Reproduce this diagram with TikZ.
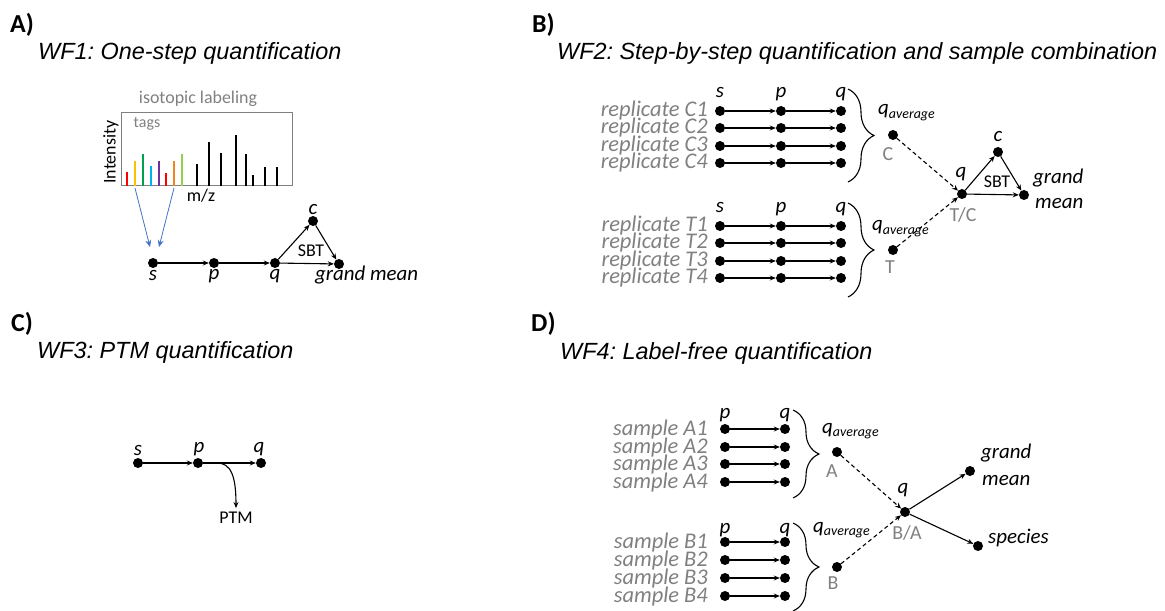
\documentclass[tikz,border=0pt]{standalone}
\usepackage{fontspec}
\setmainfont{Carlito}
\newfontfamily\arialfont{Liberation Sans}
\usetikzlibrary{arrows.meta,decorations.pathreplacing}
\definecolor{txtgray}{HTML}{808080}
\definecolor{tagred}{HTML}{FF0000}
\definecolor{taggold}{HTML}{FFC000}
\definecolor{taggreen}{HTML}{00A050}
\definecolor{tagblue}{HTML}{00B0F0}
\definecolor{tagpurple}{HTML}{7030A0}
\definecolor{tagorange}{HTML}{F58220}
\definecolor{taglime}{HTML}{92D050}
\definecolor{arrowblue}{HTML}{4472C4}
\newcommand{\qavg}{q\raisebox{-0.35ex}{\fontsize{14}{14}\selectfont average}}
\frenchspacing
\begin{document}
\begin{tikzpicture}[x=1bp,y=-1bp,
    dot/.style={circle,fill=black,inner sep=0pt,minimum size=10bp},
    lab/.style={font=\fontsize{21}{21}\selectfont\itshape,inner sep=0pt},
    greylab/.style={font=\fontsize{20}{20}\selectfont,text=txtgray,inner sep=0pt},
    rep/.style={font=\fontsize{22.5}{22.5}\selectfont\itshape,text=txtgray,inner sep=0pt,anchor=base east},
    small/.style={font=\fontsize{18}{18}\selectfont,inner sep=0pt},
    wftitle/.style={font=\arialfont\itshape\fontsize{23.5}{28}\selectfont\frenchspacing,anchor=base west,inner sep=0pt},
    panel/.style={font=\bfseries\fontsize{26}{26}\selectfont,anchor=base west,inner sep=0pt},
    bar/.style={line width=2.4bp},
    arr/.style={-{Stealth[length=6bp,width=5bp]},line width=1.1bp},
    dasharr/.style={arr,dash pattern=on 4bp off 3bp},
    curly/.style={decorate,decoration={brace,amplitude=26bp},line width=1.1bp}]
  \useasboundingbox (0,0) rectangle (1165,611);

  % A) one-step
  \node[panel] (pa) at (10,33) {A)};
  \node[wftitle] (wf1) at (38,60) {WF1: One-step quantification};
  \node[small,text=txtgray] (iso) at (198,99) {isotopic labeling};
  \draw[txtgray,line width=1bp] (121,113) rectangle (292,186);
  \node[small,text=txtgray,font=\fontsize{16}{16}\selectfont] (tags) at (147,124) {tags};
  \node[small,rotate=90] (int) at (111,152) {Intensity};
  \node[small] (mz) at (201,196) {m/z};
  \draw[bar,tagred] (127,186) -- (127,172);
  \draw[bar,taggold] (135,186) -- (135,161);
  \draw[bar,taggreen] (143,186) -- (143,154);
  \draw[bar,tagblue] (151,186) -- (151,166);
  \draw[bar,tagpurple] (159,186) -- (159,161);
  \draw[bar,tagred] (166,186) -- (166,173);
  \draw[bar,tagorange] (174,186) -- (174,161);
  \draw[bar,taglime] (182,186) -- (182,154);
  \draw[bar] (197,186) -- (197,164);
  \draw[bar] (209,186) -- (209,142);
  \draw[bar] (221,186) -- (221,153);
  \draw[bar] (236,186) -- (236,135);
  \draw[bar] (246,186) -- (246,154);
  \draw[bar] (253,186) -- (253,175);
  \draw[bar] (265,186) -- (265,167);
  \draw[bar] (277,186) -- (277,167);
  \coordinate (gold) at (135,188);
  \coordinate (orng) at (174,188);
  \coordinate (taga) at (150,247);
  \coordinate (tagb) at (159,247);
  \draw[-{Stealth[length=7bp,width=6bp]},arrowblue,line width=0.8bp] (gold) -- (taga);
  \draw[-{Stealth[length=7bp,width=6bp]},arrowblue,line width=0.8bp] (orng) -- (tagb);
  \draw
    (153,263) node[dot] (s1) {}
    (214,263) node[dot] (p1) {}
    (275,263) node[dot] (q1) {}
    (313,221) node[dot] (c1) {}
    (339,264) node[dot] (gm1) {};
  \node[lab,anchor=base] (s1l) at (153,281) {s};
  \node[lab,anchor=base] (p1l) at (214,280) {p};
  \node[lab,anchor=base] (q1l) at (275,280) {q};
  \node[lab,anchor=base] (c1l) at (313,215) {c};
  \node[lab,anchor=base west] (gm1l) at (315,281) {grand mean};
  \node[small] (sbt1) at (311,251) {SBT};
  \begin{scope}[arr]
    \draw (s1) to (p1);
    \draw (p1) to (q1);
    \draw (q1) to (c1);
    \draw (c1) to (gm1);
    \draw (q1) to (gm1);
  \end{scope}

  % B) step-by-step
  \node[panel] (pb) at (532,33) {B)};
  \node[wftitle] (wf2) at (557,60) {WF2: Step-by-step quantification and sample combination};
  \node[lab,anchor=base] (csl) at (720,98) {s};
  \node[lab,anchor=base] (cpl) at (781,98) {p};
  \node[lab,anchor=base] (cql) at (841,98) {q};
  \node[lab,anchor=base] (tsl) at (720,213) {s};
  \node[lab,anchor=base] (tpl) at (781,213) {p};
  \node[lab,anchor=base] (tql) at (841,213) {q};
  \node[rep] (rc1) at (708,117) {replicate C1};
  \node[rep] (rc2) at (708,134) {replicate C2};
  \node[rep] (rc3) at (708,152) {replicate C3};
  \node[rep] (rc4) at (708,169) {replicate C4};
  \node[rep] (rt1) at (708,232) {replicate T1};
  \node[rep] (rt2) at (708,249) {replicate T2};
  \node[rep] (rt3) at (708,267) {replicate T3};
  \node[rep] (rt4) at (708,284) {replicate T4};
  \draw
    (720,111) node[dot] (cs1) {} (781,111) node[dot] (cp1) {} (841,111) node[dot] (cq1) {}
    (720,128) node[dot] (cs2) {} (781,128) node[dot] (cp2) {} (841,128) node[dot] (cq2) {}
    (720,146) node[dot] (cs3) {} (781,146) node[dot] (cp3) {} (841,146) node[dot] (cq3) {}
    (720,163) node[dot] (cs4) {} (781,163) node[dot] (cp4) {} (841,163) node[dot] (cq4) {}
    (720,226) node[dot] (ts1) {} (781,226) node[dot] (tp1) {} (841,226) node[dot] (tq1) {}
    (720,243) node[dot] (ts2) {} (781,243) node[dot] (tp2) {} (841,243) node[dot] (tq2) {}
    (720,261) node[dot] (ts3) {} (781,261) node[dot] (tp3) {} (841,261) node[dot] (tq3) {}
    (720,278) node[dot] (ts4) {} (781,278) node[dot] (tp4) {} (841,278) node[dot] (tq4) {};
  \coordinate (cbt) at (848,89);
  \coordinate (cbb) at (848,182);
  \coordinate (tbt) at (848,203);
  \coordinate (tbb) at (848,297);
  \draw[curly] (cbt) -- (cbb);
  \draw[curly] (tbt) -- (tbb);
  \draw
    (893,135) node[dot] (cavg) {}
    (893,250) node[dot] (tavg) {}
    (962,194) node[dot] (q2) {}
    (998,152) node[dot] (c2) {}
    (1024,195) node[dot] (gm2) {};
  \node[lab,anchor=base west] (cavgl) at (878,115) {\qavg};
  \node[lab,anchor=base west] (tavgl) at (872,231) {\qavg};
  \node[greylab] (cl) at (888,154) {C};
  \node[greylab] (tl) at (890,267) {T};
  \node[greylab] (tcl) at (963,215) {T/C};
  \node[lab,anchor=base] (q2l) at (961,178) {q};
  \node[lab,anchor=base] (c2l) at (998,142) {c};
  \node[small] (sbt2) at (997,182) {SBT};
  \node[lab,anchor=base west] (gm2a) at (1033,184) {grand};
  \node[lab,anchor=base west] (gm2b) at (1035,209) {mean};
  \begin{scope}[arr]
    \draw (cs1) to (cp1); \draw (cp1) to (cq1);
    \draw (cs2) to (cp2); \draw (cp2) to (cq2);
    \draw (cs3) to (cp3); \draw (cp3) to (cq3);
    \draw (cs4) to (cp4); \draw (cp4) to (cq4);
    \draw (ts1) to (tp1); \draw (tp1) to (tq1);
    \draw (ts2) to (tp2); \draw (tp2) to (tq2);
    \draw (ts3) to (tp3); \draw (tp3) to (tq3);
    \draw (ts4) to (tp4); \draw (tp4) to (tq4);
    \draw[dasharr] (cavg) to (q2);
    \draw[dasharr] (tavg) to (q2);
    \draw (q2) to (c2);
    \draw (c2) to (gm2);
    \draw (q2) to (gm2);
  \end{scope}

  % C) PTM
  \node[panel] (pc) at (11,332) {C)};
  \node[wftitle] (wf3) at (37,358) {WF3: PTM quantification};
  \draw
    (138,463) node[dot] (s3) {}
    (198,463) node[dot] (p3) {}
    (261,463) node[dot] (q3) {};
  \node[lab,anchor=base] (s3l) at (138,455) {s};
  \node[lab,anchor=base] (p3l) at (199,452) {p};
  \node[lab,anchor=base] (q3l) at (259,452) {q};
  \node[small,inner sep=4bp] (ptm) at (236,518) {PTM};
  \coordinate (br3) at (217,463);
  \begin{scope}[arr]
    \draw (s3) to (p3);
    \draw (p3) to (q3);
    \draw (br3) .. controls (231,463) and (236,476) .. (ptm.north);
  \end{scope}

  % D) label-free
  \node[panel] (pd) at (531,332) {D)};
  \node[wftitle] (wf4) at (560,359) {WF4: Label-free quantification};
  \node[lab,anchor=base] (apl) at (725,418) {p};
  \node[lab,anchor=base] (aql) at (785,418) {q};
  \node[lab,anchor=base] (bpl) at (725,533) {p};
  \node[lab,anchor=base] (bql) at (785,533) {q};
  \node[rep] (sa1) at (708,435) {sample A1};
  \node[rep] (sa2) at (708,453) {sample A2};
  \node[rep] (sa3) at (708,470) {sample A3};
  \node[rep] (sa4) at (708,488) {sample A4};
  \node[rep] (sb1) at (708,548) {sample B1};
  \node[rep] (sb2) at (708,566) {sample B2};
  \node[rep] (sb3) at (708,584) {sample B3};
  \node[rep] (sb4) at (708,602) {sample B4};
  \draw
    (725,429) node[dot] (ap1) {} (785,429) node[dot] (aq1) {}
    (725,447) node[dot] (ap2) {} (785,447) node[dot] (aq2) {}
    (725,464) node[dot] (ap3) {} (785,464) node[dot] (aq3) {}
    (725,482) node[dot] (ap4) {} (785,482) node[dot] (aq4) {}
    (725,542) node[dot] (bp1) {} (785,542) node[dot] (bq1) {}
    (725,560) node[dot] (bp2) {} (785,560) node[dot] (bq2) {}
    (725,578) node[dot] (bp3) {} (785,578) node[dot] (bq3) {}
    (725,596) node[dot] (bp4) {} (785,596) node[dot] (bq4) {};
  \coordinate (abt) at (793,410);
  \coordinate (abb) at (793,498);
  \coordinate (bbt) at (793,523);
  \coordinate (bbb) at (793,611);
  \draw[curly] (abt) -- (abb);
  \draw[curly] (bbt) -- (bbb);
  \draw
    (837,452) node[dot] (aavg) {}
    (837,567) node[dot] (bavg) {}
    (905,512) node[dot] (q4) {}
    (970,471) node[dot] (gm4) {}
    (978,546) node[dot] (sp4) {};
  \node[lab,anchor=base west] (aavgl) at (822,433) {\qavg};
  \node[lab,anchor=base west] (bavgl) at (813,532) {\qavg};
  \node[greylab] (al) at (832,471) {A};
  \node[greylab] (bl) at (833,583) {B};
  \node[greylab] (bal) at (907,533) {B/A};
  \node[lab,anchor=base] (q4l) at (903,493) {q};
  \node[lab,anchor=base west] (gm4a) at (981,458) {grand};
  \node[lab,anchor=base west] (gm4b) at (982,485) {mean};
  \node[lab,anchor=base west] (sp4l) at (988,543) {species};
  \begin{scope}[arr]
    \draw (ap1) to (aq1);
    \draw (ap2) to (aq2);
    \draw (ap3) to (aq3);
    \draw (ap4) to (aq4);
    \draw (bp1) to (bq1);
    \draw (bp2) to (bq2);
    \draw (bp3) to (bq3);
    \draw (bp4) to (bq4);
    \draw[dasharr] (aavg) to (q4);
    \draw[dasharr] (bavg) to (q4);
    \draw (q4) to (gm4);
    \draw (q4) to (sp4);
  \end{scope}
\end{tikzpicture}
\end{document}
